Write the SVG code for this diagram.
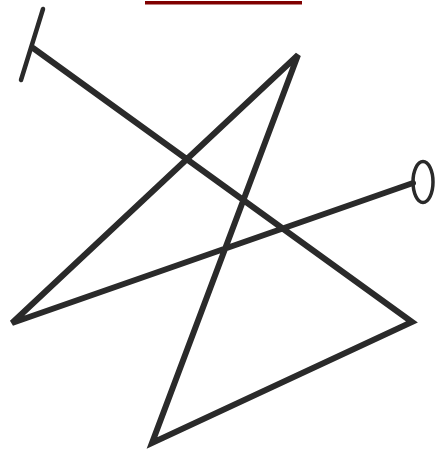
<svg xmlns="http://www.w3.org/2000/svg" width="435" height="450" viewBox="0 0 435 450">
<style>
.ln{fill:none;stroke:#2a2a2a;stroke-width:6;stroke-linejoin:miter;stroke-linecap:round}
.thin{fill:none;stroke:#2a2a2a;stroke-width:4.5;stroke-linecap:round}
</style>
<rect x="0" y="0" width="435" height="450" fill="#ffffff"/>
<rect x="145" y="1" width="157" height="3.5" fill="#800000"/>
<g id="figure">
<line class="thin" x1="43" y1="9" x2="21" y2="80"/>
<polyline class="ln" points="33,48 412,322 152,443 298,55 12,323 413,183"/>
<ellipse cx="423" cy="182" rx="10" ry="20.5" fill="none" stroke="#2a2a2a" stroke-width="3.5"/>
</g>
</svg>
